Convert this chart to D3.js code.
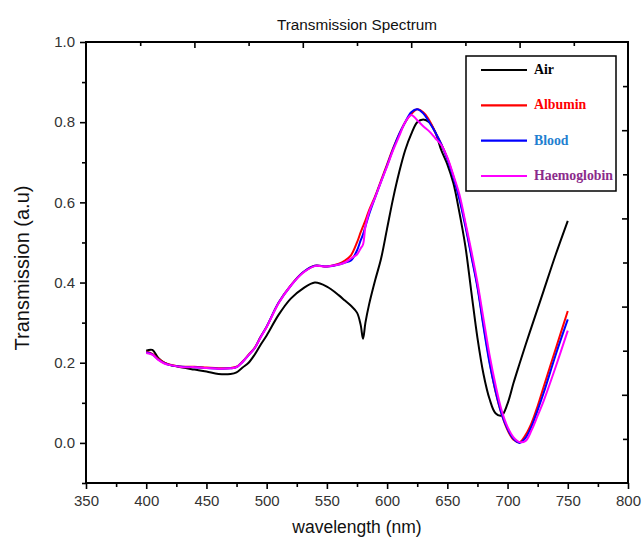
<!DOCTYPE html>
<html>
<head>
<meta charset="utf-8">
<script src="https://cdn.jsdelivr.net/npm/d3@7"></script>
<style>
  html, body { margin: 0; padding: 0; background: #fff; }
  svg { display: block; }
</style>
</head>
<body>
<svg id="chart" width="643" height="543"></svg>
<script>
// Wavelength grid (nm) shared by all four spectra
const wavelengths = [400,405,410,415,420,430,440,450,460,470,475,480,485,490,495,500,510,520,530,540,550,560,565,570,575,578,580,582,585,590,595,600,605,610,615,620,625,630,635,640,645,650,655,660,665,670,675,680,685,690,695,700,705,710,715,720,725,730,740,750];

const airValues = [0.230,0.232,0.212,0.200,0.194,0.188,0.183,0.178,0.172,0.172,0.176,0.188,0.200,0.220,0.245,0.268,0.320,0.360,0.385,0.400,0.390,0.368,0.355,0.342,0.325,0.295,0.260,0.300,0.345,0.405,0.460,0.535,0.610,0.675,0.730,0.770,0.800,0.807,0.800,0.775,0.730,0.695,0.648,0.575,0.490,0.375,0.262,0.172,0.110,0.074,0.068,0.098,0.150,0.198,0.245,0.290,0.335,0.380,0.470,0.554];

const albuminValues = [0.228,0.222,0.210,0.200,0.195,0.190,0.190,0.188,0.186,0.187,0.190,0.203,0.220,0.237,0.265,0.290,0.350,0.393,0.425,0.442,0.440,0.447,0.455,0.468,0.500,0.525,0.540,0.555,0.580,0.615,0.655,0.695,0.735,0.770,0.800,0.820,0.832,0.825,0.805,0.775,0.745,0.710,0.665,0.612,0.545,0.468,0.392,0.295,0.205,0.128,0.072,0.032,0.008,0.002,0.020,0.050,0.092,0.140,0.235,0.329];

const bloodValues = [0.226,0.221,0.208,0.199,0.194,0.190,0.189,0.187,0.185,0.186,0.189,0.202,0.219,0.236,0.264,0.290,0.350,0.392,0.425,0.442,0.440,0.445,0.450,0.455,0.480,0.505,0.520,0.540,0.570,0.612,0.652,0.692,0.733,0.770,0.800,0.825,0.832,0.822,0.800,0.775,0.745,0.708,0.662,0.608,0.540,0.465,0.388,0.290,0.200,0.130,0.073,0.035,0.010,0.000,0.013,0.042,0.082,0.125,0.220,0.308];

const haemoglobinValues = [0.224,0.220,0.207,0.198,0.194,0.189,0.189,0.187,0.185,0.186,0.189,0.202,0.219,0.236,0.263,0.289,0.349,0.392,0.424,0.441,0.440,0.445,0.450,0.460,0.470,0.485,0.495,0.540,0.575,0.612,0.652,0.690,0.730,0.765,0.800,0.818,0.805,0.790,0.777,0.760,0.743,0.712,0.668,0.620,0.550,0.478,0.400,0.310,0.220,0.145,0.082,0.040,0.014,0.002,0.005,0.032,0.068,0.105,0.190,0.280];

const seriesNames = ["Air","Albumin","Blood","Haemoglobin"];
const seriesValues = [airValues, albuminValues, bloodValues, haemoglobinValues];
const lineColors = ["#000000","#ff0000","#0000ff","#ff00ff"];
const legendTextColors = ["#000000","#ff0000","#1f80d0","#8b2a8b"];

const xTickValues = [350,400,450,500,550,600,650,700,750,800];
const yTickValues = [0.0,0.2,0.4,0.6,0.8,1.0];

const svg = d3.select("#chart");
const plotLeft = 86, plotRight = 628, plotTop = 42, plotBottom = 483;

const x = d3.scaleLinear().domain([350, 800]).range([plotLeft, plotRight]);
const y = d3.scaleLinear().domain([-0.1, 1.0]).range([plotBottom, plotTop]);
// mirrored frame axes on top and right use their own 0..1 scale with 10 divisions
const xTop = d3.scaleLinear().domain([0, 1]).range([plotLeft, plotRight]);
const yRight = d3.scaleLinear().domain([0, 1]).range([plotBottom, plotTop]);

const tickFont = "Arial, 'Liberation Sans', sans-serif";

// bottom axis: major ticks with labels, minor ticks between
const xAxis = d3.axisBottom(x).tickValues(xTickValues).tickSize(6).tickPadding(6).tickFormat(d3.format("d"));
svg.append("g").attr("transform", `translate(0,${plotBottom})`).call(xAxis);
const xMinor = d3.axisBottom(x).tickValues(d3.range(375, 800, 50)).tickSize(4).tickFormat("");
svg.append("g").attr("transform", `translate(0,${plotBottom})`).call(xMinor);

// left axis
const yAxis = d3.axisLeft(y).tickValues(yTickValues).tickSize(6).tickPadding(5).tickFormat(d3.format(".1f"));
svg.append("g").attr("transform", `translate(${plotLeft},0)`).call(yAxis);
const yMinor = d3.axisLeft(y).tickValues([-0.1,0.1,0.3,0.5,0.7,0.9]).tickSize(4).tickFormat("");
svg.append("g").attr("transform", `translate(${plotLeft},0)`).call(yMinor);

// top axis (inward ticks)
svg.append("g").attr("transform", `translate(0,${plotTop})`)
  .call(d3.axisTop(xTop).tickValues([0.2,0.4,0.6,0.8]).tickSize(-6).tickFormat(""));
svg.append("g").attr("transform", `translate(0,${plotTop})`)
  .call(d3.axisTop(xTop).tickValues([0.1,0.3,0.5,0.7,0.9]).tickSize(-4).tickFormat(""));

// right axis (inward ticks)
svg.append("g").attr("transform", `translate(${plotRight},0)`)
  .call(d3.axisRight(yRight).tickValues([0.2,0.4,0.6,0.8]).tickSize(-6).tickFormat(""));
svg.append("g").attr("transform", `translate(${plotRight},0)`)
  .call(d3.axisRight(yRight).tickValues([0.1,0.3,0.5,0.7,0.9]).tickSize(-5).tickFormat(""));

svg.selectAll(".domain").remove();
svg.selectAll(".tick line").attr("stroke", "#000").attr("stroke-width", 1.6);
svg.selectAll(".tick text").attr("fill", "#333")
  .attr("font-family", null).attr("font-size", null)
  .style("font-family", tickFont).style("font-size", "15px");

// frame
svg.append("rect").attr("x", plotLeft).attr("y", plotTop)
  .attr("width", plotRight - plotLeft).attr("height", plotBottom - plotTop)
  .attr("fill", "none").attr("stroke", "#000").attr("stroke-width", 2);

// spectra
const line = d3.line()
  .x((d, i) => x(wavelengths[i]))
  .y(d => y(d))
  .curve(d3.curveCatmullRom.alpha(0.5));

svg.append("g").selectAll("path.spectrum")
  .data(seriesValues)
  .join("path")
  .attr("class", "spectrum")
  .attr("d", d => line(d))
  .attr("fill", "none")
  .attr("stroke", (d, i) => lineColors[i])
  .attr("stroke-width", 2)
  .attr("stroke-linejoin", "round");

// legend
const legend = svg.append("g");
legend.append("rect").attr("x", 466).attr("y", 56).attr("width", 150).attr("height", 135)
  .attr("fill", "#fff").attr("stroke", "#000").attr("stroke-width", 1.5);
const legendY = d3.scalePoint().domain(seriesNames).range([70, 176]);
seriesNames.forEach((name, i) => {
  legend.append("line").attr("x1", 481).attr("x2", 527)
    .attr("y1", legendY(name)).attr("y2", legendY(name))
    .attr("stroke", lineColors[i]).attr("stroke-width", 2.2);
  legend.append("text").attr("x", 534).attr("y", legendY(name) + 4)
    .attr("fill", legendTextColors[i])
    .style("font-family", "'Liberation Serif', 'Times New Roman', serif")
    .style("font-weight", "bold").style("font-size", "13.8px")
    .text(name);
});

// titles
svg.append("text").attr("x", 357).attr("y", 30).attr("text-anchor", "middle")
  .style("font-family", tickFont).style("font-size", "15.3px").attr("fill", "#111")
  .text("Transmission Spectrum");
svg.append("text").attr("x", 357).attr("y", 533).attr("text-anchor", "middle")
  .style("font-family", tickFont).style("font-size", "17.5px").attr("fill", "#111")
  .text("wavelength (nm)");
svg.append("text").attr("transform", "translate(29,268) rotate(-90)").attr("text-anchor", "middle")
  .style("font-family", tickFont).style("font-size", "20px").attr("fill", "#111")
  .text("Transmission (a.u)");
</script>
</body>
</html>
